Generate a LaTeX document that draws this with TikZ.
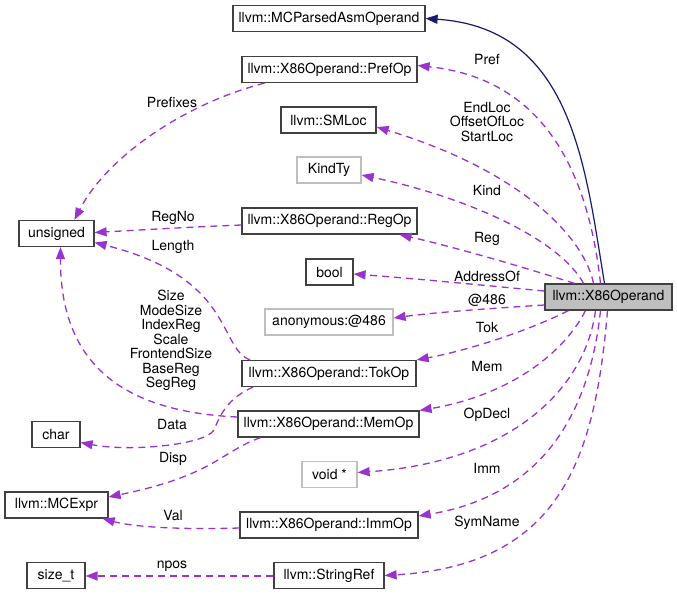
\documentclass[tikz,border=0pt]{standalone}
\usepackage{fontspec}
\setmainfont{TeX Gyre Heros}
\usetikzlibrary{arrows.meta}

\definecolor{member}{HTML}{9A32CD}
\definecolor{base}{HTML}{191970}
\definecolor{undoc}{HTML}{BFBFBF}

\begin{document}
\begin{tikzpicture}[x=1pt,y=-1pt,
  every node/.style={font=\fontsize{14}{14.5}\selectfont},
  cls/.style={draw=black!75,line width=1.2pt,fill=white,minimum height=26pt,inner sep=0pt},
  ext/.style={cls,draw=undoc},
  self/.style={cls,fill=undoc},
  uses/.style={draw=member,line width=1.3pt,dash pattern=on 7pt off 5pt,-{Triangle[length=12pt,width=9pt]}},
  isa/.style={draw=base,line width=1.2pt,-{Triangle[length=12pt,width=9pt]}},
  lbl/.style={inner sep=0pt,align=center}]
  \useasboundingbox (0,0) rectangle (677,595);

  \node[self,minimum width=127pt] (x86) at (608.5,297) {llvm::X86Operand};
  \node[cls,minimum width=192pt] (mcpa) at (329,18.5) {llvm::MCParsedAsmOperand};
  \node[cls,minimum width=175pt] (pref) at (329.5,69.5) {llvm::X86Operand::PrefOp};
  \node[cls,minimum width=95pt] (smloc) at (328.5,120) {llvm::SMLoc};
  \node[ext,minimum width=64pt] (kind) at (329,170) {KindTy};
  \node[cls,minimum width=175pt] (reg) at (329.5,221) {llvm::X86Operand::RegOp};
  \node[cls,minimum width=47pt] (bool) at (329.5,272) {bool};
  \node[ext,minimum width=128pt] (anon) at (329,322) {anonymous:@486};
  \node[cls,minimum width=174pt] (tok) at (329,373.5) {llvm::X86Operand::TokOp};
  \node[cls,minimum width=181pt] (mem) at (328.5,424) {llvm::X86Operand::MemOp};
  \node[ext,minimum width=55pt] (voidp) at (329.5,474.5) {void *};
  \node[cls,minimum width=178pt] (imm) at (329,525) {llvm::X86Operand::ImmOp};
  \node[cls,minimum width=110pt] (sref) at (329,575.5) {llvm::StringRef};
  \node[cls,minimum width=75pt] (uns) at (56.5,233.5) {unsigned};
  \node[cls,minimum width=48pt] (char) at (56,434.5) {char};
  \node[cls,minimum width=103pt] (mcex) at (56.5,505) {llvm::MCExpr};
  \node[cls,minimum width=58pt] (sizet) at (56,575.5) {size\_t};

  % base class
  \draw[isa] ([xshift=-4pt]x86.north) .. controls (585,165) and (572,28) .. (mcpa.east);

  % members of X86Operand
  \draw[uses] ([xshift=-8pt]x86.north) .. controls (590,190) and (555,80) .. ([yshift=4pt]pref.east)
    node[lbl] (lpref) at (487,59) {Pref};
  \draw[uses] ([xshift=-15pt]x86.north) .. controls (585,240) and (525,172) .. ([yshift=-7pt]smloc.east)
    node[lbl] (lsmloc) at (487,122) {EndLoc\\OffsetOfLoc\\StartLoc};
  \draw[uses] ([xshift=-25pt]x86.north) .. controls (560,240) and (470,198) .. ([yshift=-5pt]kind.east)
    node[lbl] (lkind) at (487,190) {Kind};
  \draw[uses] ([xshift=-34pt]x86.north) .. controls (520,266) and (450,246) .. ([xshift=70pt]reg.south)
    node[lbl] (lreg) at (487,239) {Reg};
  \draw[uses] ([yshift=6pt]x86.west) .. controls (480,285) and (420,279) .. ([yshift=-2pt]bool.east)
    node[lbl] (lbool) at (487,276) {AddressOf};
  \draw[uses] ([yshift=-8pt]x86.west) .. controls (480,309) and (430,313) .. ([yshift=4pt]anon.east)
    node[lbl] (lanon) at (487,300) {@486};
  \draw[uses] ([xshift=-40pt]x86.south) .. controls (530,330) and (470,350) .. (tok.north east)
    node[lbl] (ltok) at (487,327) {Tok};
  \draw[uses] ([xshift=-23pt]x86.south) .. controls (560,360) and (500,397) .. (mem.north east)
    node[lbl] (lmem) at (487,366) {Mem};
  \draw[uses] ([xshift=-13pt]x86.south) .. controls (585,390) and (510,462) .. ([yshift=2pt]voidp.east)
    node[lbl] (lvoidp) at (487,415) {OpDecl};
  \draw[uses] ([xshift=-8pt]x86.south) .. controls (590,410) and (545,495) .. ([yshift=9pt]imm.east)
    node[lbl] (limm) at (487,468) {Imm};
  \draw[uses] ([xshift=-1pt]x86.south) .. controls (595,460) and (560,565) .. (sref.east)
    node[lbl] (lsref) at (487,523) {SymName};

  % members of the nested classes
  \draw[uses] ([xshift=-65pt]pref.south) .. controls (180,105) and (105,160) .. ([xshift=18pt]uns.north)
    node[lbl] (lprefix) at (172,102) {Prefixes};
  \draw[uses] ([yshift=-4pt]reg.west) .. controls (190,227) and (140,230) .. ([yshift=1pt]uns.east)
    node[lbl] (lregno) at (173,218) {RegNo};
  \draw[uses] ([xshift=-79pt]tok.north) .. controls (218,348) and (235,278) .. ([yshift=-9pt]uns.east)
    node[lbl] (llength) at (173,247) {Length};
  \draw[uses] ([yshift=7pt]mem.west) .. controls (130,412) and (60,370) .. ([xshift=4pt]uns.south)
    node[lbl] (lmemregs) at (171,340.5) {Size\\ModeSize\\IndexReg\\Scale\\FrontendSize\\BaseReg\\SegReg};
  \draw[uses] ([xshift=-76pt]tok.south) .. controls (228,398) and (220,415) .. (214,430)
    .. controls (205,445) and (130,452) .. ([yshift=-8pt]char.east)
    node[lbl] (ldata) at (172,424) {Data};
  \draw[uses] ([xshift=-68pt]mem.south) .. controls (220,452) and (215,475) .. ([yshift=8pt]mcex.east)
    node[lbl] (ldisp) at (173,459) {Disp};
  \draw[uses] ([yshift=-3pt]imm.west) .. controls (170,530) and (130,526) .. ([xshift=-6pt]mcex.south east)
    node[lbl] (lval) at (173,515) {Val};
  \draw[uses] ([yshift=-0.5pt]sref.west) -- ([yshift=-0.5pt]sizet.east)
    node[lbl] (lnpos) at (172,566) {npos};
\end{tikzpicture}
\end{document}
